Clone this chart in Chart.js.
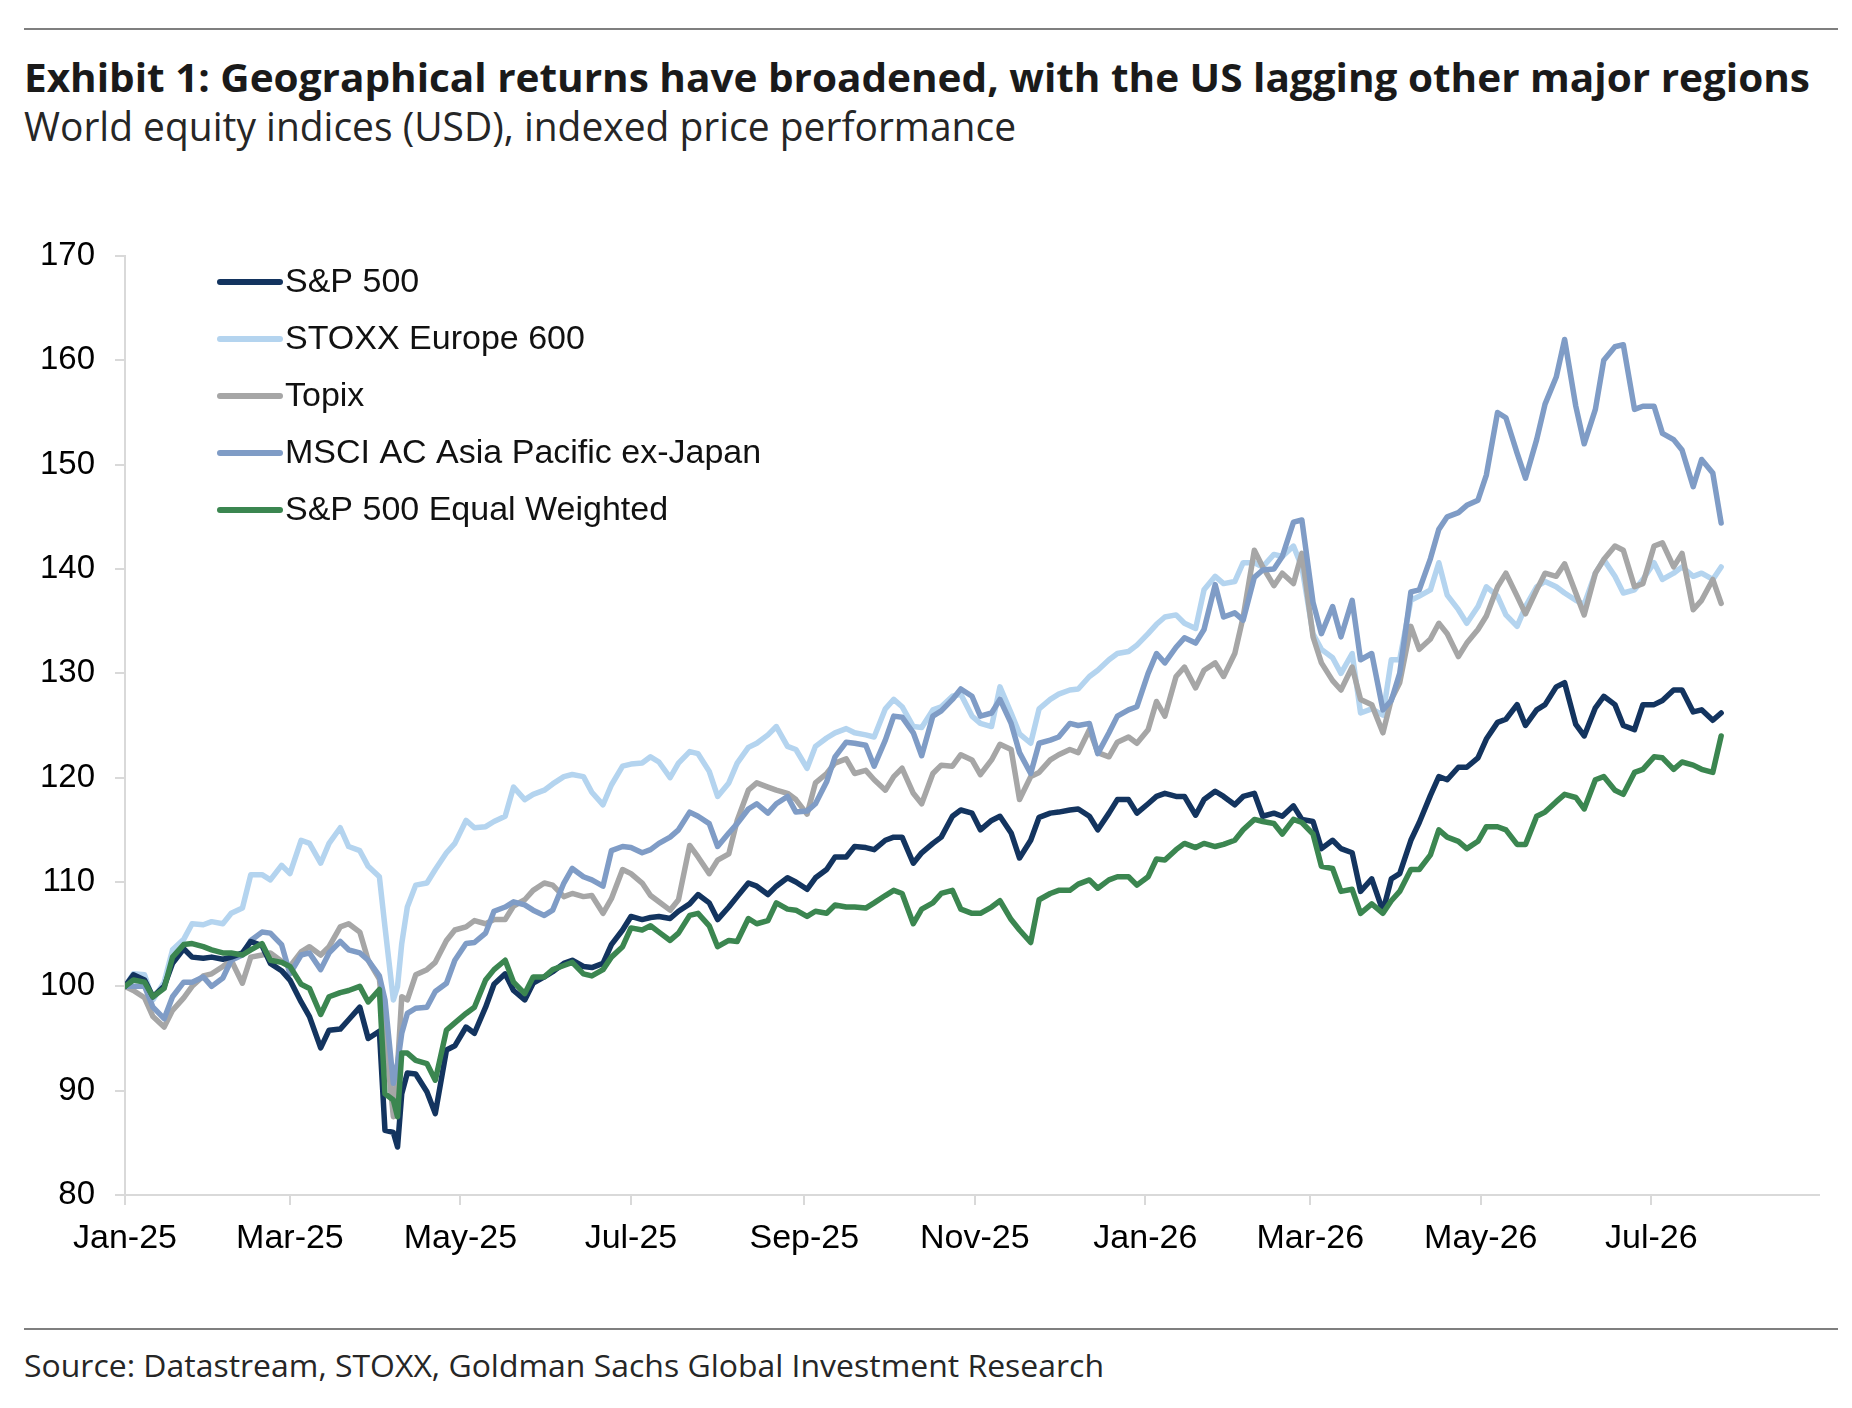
<!DOCTYPE html>
<html>
<head>
<meta charset="utf-8">
<title>Exhibit 1</title>
<script src="https://cdn.jsdelivr.net/npm/chart.js@4.4.1/dist/chart.umd.min.js"></script>
<style>
  html, body { margin: 0; padding: 0; background: #fff; }
  body { width: 1852px; height: 1408px; position: relative; overflow: hidden; font-family: "Open Sans", sans-serif; }
  .rule { position: absolute; left: 24px; width: 1814px; height: 2px; background: #7f7f7f; }
  .txt { position: absolute; left: 24px; line-height: 1; white-space: nowrap; transform-origin: 0 0; }
  #title { top: 57px; font-size: 40px; font-weight: 700; color: #1a1a1a; }
  #subtitle { top: 106px; font-size: 40px; color: #262626; }
  #source { top: 1350px; font-size: 31px; color: #262626; }
  #wrap { position: absolute; left: 0; top: 200px; width: 1852px; height: 1100px; }
</style>
</head>
<body>
<div class="rule" style="top:28px"></div>
<div id="title" class="txt">Exhibit 1: Geographical returns have broadened, with the US lagging other major regions</div>
<div id="subtitle" class="txt">World equity indices (USD), indexed price performance</div>
<div id="wrap"><canvas id="myChart" width="1852" height="1100"></canvas></div>
<div class="rule" style="top:1328px"></div>
<div id="source" class="txt">Source: Datastream, STOXX, Goldman Sachs Global Investment Research</div>

<script>
// days since 1 Jan 2025 (about twice a week)
var days = [0, 3, 7, 10, 14, 17, 21, 24, 28, 31, 35, 38, 42, 45, 49, 52, 56, 59, 63, 66, 70, 73, 77, 80, 84, 87, 91,
  93, 96, 97.5, 99,
  101, 104, 108, 111, 115, 118, 122, 125, 129, 132, 136, 139, 143, 146, 150, 153, 157, 160, 164, 167,
  171, 174, 178, 181, 185, 188, 191, 195, 198, 202, 205, 209, 212, 216, 219, 223, 226, 230, 233, 237,
  240, 244, 247, 251, 254, 258, 261, 265, 268, 272, 275, 278, 282, 285, 289, 292, 296, 299, 303, 306,
  310, 313, 317, 320, 324, 327, 331, 334, 338, 341, 345, 348, 352, 355, 359, 362, 366, 369, 372, 376,
  379, 383, 386, 390, 393, 397,
  400, 404, 407, 411, 414, 418, 421, 425, 428, 432,
  435, 439, 442, 446, 450, 453, 456, 460, 463, 467,
  470, 473, 477, 480, 484, 487, 491, 494, 498, 501,
  505, 508, 512, 515, 519, 522, 526, 529, 533, 536,
  540, 543, 547, 550, 554, 557, 561, 564, 568, 571];

var seriesNames = ['S&P 500', 'STOXX Europe 600', 'Topix', 'MSCI AC Asia Pacific ex-Japan', 'S&P 500 Equal Weighted'];

var spx = [100, 101.1, 100.6, 99, 100, 102.2, 103.6, 102.8, 102.7, 102.8, 102.6, 102.8, 103.2, 104.3, 103.9, 102.2,
  101.5, 100.6, 98.5, 97.1, 94.1, 95.8, 95.9, 96.8, 98, 95, 95.7,
  86.2, 86, 84.6, 89.7,
  91.7, 91.6, 89.9, 87.8, 93.9, 94.3, 96.1, 95.5, 98, 100.2, 101.2, 99.6, 98.7, 100.3, 100.9, 101.4,
  102.2, 102.5, 101.9, 101.8, 102.2, 104, 105.4, 106.7, 106.4, 106.6, 106.7, 106.5, 107.2, 107.9,
  108.8, 108, 106.4, 107.6, 108.6, 109.9, 109.6, 108.8, 109.6, 110.4, 110, 109.3, 110.4, 111.2,
  112.4, 112.4, 113.4, 113.3, 113.1, 114, 114.3, 114.3, 111.8, 112.8, 113.7, 114.3, 116.3, 116.9,
  116.6, 115, 115.9, 116.3, 114.7, 112.3, 114, 116.2, 116.6, 116.7, 116.9, 117, 116.3, 115,
  116.6, 117.9, 117.9, 116.6, 117.5, 118.2, 118.5, 118.2, 118.2, 116.4, 117.9, 118.7, 118.2, 117.4,
  118.2, 118.5, 116.3, 116.6, 116.3, 117.3, 116, 115.8, 113.2, 114,
  113.2, 112.8, 109.1, 110.3, 107.2, 110.3, 110.8, 114, 115.7, 118.3,
  120.1, 119.8, 121, 121, 121.9, 123.7, 125.3, 125.6, 127, 125,
  126.5, 127, 128.7, 129.1, 125.1, 124, 126.7, 127.8, 127, 125,
  124.6, 127, 127, 127.4, 128.4, 128.4, 126.3, 126.5, 125.5, 126.2];

var stoxx = [100, 101.2, 101.1, 98.7, 100.4, 103.5, 104.5, 106, 105.9, 106.2, 106, 107, 107.5, 110.7, 110.7, 110.2,
  111.6, 110.8, 114, 113.7, 111.8, 113.7, 115.2, 113.4, 113, 111.5, 110.5,
  105.7, 98.7, 100, 104.1,
  107.6, 109.7, 109.9, 111.2, 112.8, 113.7, 115.9, 115.2, 115.3, 115.8, 116.3, 119.1, 117.9, 118.4, 118.8, 119.4,
  120.1, 120.3, 120.1, 118.6, 117.4, 119.3, 121.1, 121.3, 121.4, 122, 121.5, 120, 121.4, 122.5,
  122.3, 120.6, 118.2, 119.5, 121.4, 122.9, 123.3, 124.1, 124.9, 123, 122.7, 120.9, 123, 123.8,
  124.3, 124.7, 124.3, 124.1, 123.9, 126.6, 127.5, 126.8, 124.9, 124.8, 126.5, 126.8, 127.8, 128,
  125.9, 125.2, 124.9, 128.7, 126.2, 124.2, 123.3, 126.6, 127.5, 128, 128.4, 128.5, 129.7, 130.3,
  131.3, 131.9, 132.1, 132.7, 133.8, 134.7, 135.4, 135.6, 134.8, 134.3, 138, 139.3, 138.6, 138.8,
  140.6, 140.6, 140.2, 141.4, 141.2, 142.2, 140.2, 133.8, 132.3, 131.5,
  130, 131.9, 126.2, 126.6, 126, 131.3, 131.3, 137, 137.4, 138,
  140.6, 137.5, 136.1, 134.8, 136.4, 138.3, 137.4, 135.6, 134.5, 136.4,
  138.3, 138.8, 138.3, 137.7, 137, 136.6, 139.6, 140.9, 139.3, 137.7,
  138, 139, 140.6, 139, 139.6, 140.2, 139.3, 139.6, 139, 140.2];

var topix = [100, 99.6, 98.9, 97.1, 96.1, 97.7, 98.9, 100, 101, 101.2, 101.9, 102.5, 100.3, 102.8, 103, 103.2,
  102.4, 101.9, 103.3, 103.8, 103, 103.8, 105.7, 106, 105.2, 102.5, 100.7,
  95.5, 87.5, 92.3, 99,
  98.7, 101.1, 101.6, 102.3, 104.4, 105.4, 105.7, 106.3, 106, 106.4, 106.4, 107.7, 108.3, 109.2, 109.9, 109.7,
  108.6, 108.9, 108.6, 108.7, 107, 108.4, 111.2, 110.8, 109.9, 108.7, 108.1, 107.3, 108.3, 113.5,
  112.4, 110.8, 112.1, 112.7, 115.9, 118.8, 119.5, 119.1, 118.8, 118.5, 117.9, 116.5, 119.5, 120.4,
  121.4, 121.8, 120.4, 120.7, 119.8, 118.8, 120.1, 120.9, 118.5, 117.5, 120.4, 121.2, 121.1, 122.2,
  121.7, 120.3, 121.7, 123.2, 122.7, 117.9, 120.1, 120.5, 121.7, 122.2, 122.7, 122.4, 124.6, 122.4,
  122, 123.4, 123.9, 123.3, 124.6, 127.3, 125.9, 129.7, 130.6, 128.6, 130.3, 131, 129.7, 131.9,
  135.4, 141.8, 140.2, 138.4, 139.6, 138.6, 141.5, 133.5, 131, 129.3,
  128.4, 130.6, 127.5, 127, 124.3, 127.5, 129.1, 134.5, 132.3, 133.3,
  134.8, 133.8, 131.6, 132.9, 134.2, 135.5, 138.3, 139.6, 137.4, 135.7,
  138, 139.6, 139.3, 140.5, 137.7, 135.6, 139.6, 140.9, 142.2, 141.8,
  138.3, 138.6, 142.2, 142.5, 140.2, 141.5, 136.1, 137, 139, 136.7];

var msci = [100, 100, 100, 98, 96.9, 99, 100.4, 100.4, 100.9, 100, 100.8, 102.5, 103, 104.4, 105.2, 105.1,
  104, 101.2, 103, 103.2, 101.6, 103.2, 104.3, 103.5, 103.2, 102.5, 101,
  98.7, 90.7, 92.6, 95.5,
  97.4, 97.9, 98, 99.5, 100.3, 102.5, 104.1, 104.2, 105.1, 107.2, 107.6, 108.1, 107.8, 107.3, 106.8, 107.3,
  109.9, 111.3, 110.5, 110.2, 109.6, 113, 113.4, 113.3, 112.8, 113.1, 113.7, 114.3, 115, 116.7,
  116.3, 115.6, 113.4, 114.7, 115.6, 117, 117.5, 116.6, 117.5, 118.2, 116.7, 116.8, 117.5, 119.6,
  122, 123.4, 123.3, 123.1, 121.1, 123.6, 125.9, 125.8, 124.3, 122.1, 125.9, 126.4, 127.5, 128.5,
  127.8, 125.9, 126.2, 127.5, 125.2, 122.4, 120.4, 123.3, 123.6, 123.9, 125.2, 125, 125.2, 122.3,
  124.3, 125.9, 126.5, 126.8, 130, 131.9, 131, 132.5, 133.4, 132.9, 134.2, 138.5, 135.4, 135.8,
  135.1, 139.2, 139.9, 140, 141.2, 144.5, 144.7, 136.8, 133.8, 136.4,
  133.5, 137, 131.3, 131.9, 126.5, 127.4, 130, 137.8, 138, 141,
  143.8, 145, 145.4, 146.1, 146.6, 149, 155, 154.5, 151.1, 148.7,
  152.4, 155.8, 158.4, 162, 155.6, 152, 155.3, 160, 161.3, 161.5,
  155.3, 155.6, 155.6, 153, 152.4, 151.4, 147.9, 150.5, 149.2, 144.4];

var spxEw = [100, 100.6, 100.4, 99, 99.8, 102.8, 104, 104.1, 103.8, 103.5, 103.2, 103.2, 103, 103.5, 104.1, 102.5,
  102.3, 101.9, 100.2, 99.8, 97.3, 99, 99.4, 99.6, 100, 98.5, 99.7,
  89.7, 89.1, 87.5, 93.6,
  93.6, 92.9, 92.6, 91, 95.8, 96.5, 97.4, 98, 100.6, 101.6, 102.5, 100.4, 99.3, 100.9, 100.9, 101.6,
  102, 102.3, 101.2, 101, 101.6, 102.8, 103.8, 105.6, 105.4, 105.8, 105.2, 104.4, 105.1, 106.8,
  107, 105.8, 103.8, 104.4, 104.3, 106.5, 106, 106.3, 108, 107.4, 107.3, 106.7, 107.2, 107,
  107.8, 107.6, 107.6, 107.5, 108, 108.7, 109.2, 108.9, 106, 107.4, 108, 108.9, 109.2, 107.4,
  107, 107, 107.6, 108.2, 106.4, 105.4, 104.2, 108.3, 108.9, 109.2, 109.2, 109.8, 110.2, 109.4,
  110.2, 110.5, 110.5, 109.7, 110.5, 112.2, 112.1, 113.1, 113.7, 113.3, 113.7, 113.4, 113.6, 114,
  115, 116, 115.8, 115.6, 114.6, 116, 115.7, 114.6, 111.5, 111.3,
  109.1, 109.3, 107, 107.9, 107, 108.2, 109.1, 111.2, 111.2, 112.6,
  115, 114.3, 113.9, 113.2, 113.9, 115.3, 115.3, 115, 113.6, 113.6,
  116.3, 116.7, 117.7, 118.4, 118.1, 117, 119.8, 120.1, 118.8, 118.4,
  120.5, 120.8, 122, 121.9, 120.8, 121.5, 121.2, 120.8, 120.5, 124];

// x-axis ticks (days since 1 Jan 2025) and their labels
var tickDays = [0, 59, 120, 181, 243, 304, 365, 424, 485, 546];
var tickLabels = ['Jan-25', 'Mar-25', 'May-25', 'Jul-25', 'Sep-25', 'Nov-25', 'Jan-26', 'Mar-26', 'May-26', 'Jul-26'];

var colors = ['#13345f', '#b4d4ef', '#a6a6a6', '#7f9cc6', '#3b8650'];

function fitWidth(id, w) {
  var el = document.getElementById(id);
  var r = el.getBoundingClientRect().width;
  el.style.transform = 'scaleX(' + (w / r) + ')';
}
fitWidth('title', 1786);
fitWidth('subtitle', 992);
fitWidth('source', 1080);

function points(vals) {
  return days.map(function (d, i) { return { x: d, y: vals[i] }; });
}

var axisFont = { family: '"Liberation Sans", Arial, sans-serif', size: 34 };

// legend drawn inside the plot, top left
var insideLegend = {
  id: 'insideLegend',
  afterDraw: function (chart) {
    var c = chart.ctx;
    c.save();
    c.font = '34px "Liberation Sans", Arial, sans-serif';
    c.textBaseline = 'middle';
    c.lineCap = 'round';
    chart.data.datasets.forEach(function (ds, i) {
      var y = 82 + i * 57;
      c.strokeStyle = ds.borderColor;
      c.lineWidth = 6;
      c.beginPath();
      c.moveTo(220, y);
      c.lineTo(280, y);
      c.stroke();
      c.fillStyle = '#111';
      c.fillText(ds.label, 285, y + 1);
    });
    c.restore();
  }
};

var ctx = document.getElementById('myChart').getContext('2d');
var myChart = new Chart(ctx, {
  type: 'line',
  data: {
    datasets: [
      { label: seriesNames[0], data: points(spx), borderColor: colors[0], order: 1 },
      { label: seriesNames[1], data: points(stoxx), borderColor: colors[1], order: 4 },
      { label: seriesNames[2], data: points(topix), borderColor: colors[2], order: 3 },
      { label: seriesNames[3], data: points(msci), borderColor: colors[3], order: 2 },
      { label: seriesNames[4], data: points(spxEw), borderColor: colors[4], order: 0 }
    ]
  },
  options: {
    responsive: false,
    devicePixelRatio: 1,
    animation: false,
    layout: { padding: { left: 0, right: 33, top: 56, bottom: 0 } },
    elements: {
      point: { radius: 0 },
      line: { borderWidth: 5.5, tension: 0, borderJoinStyle: 'round', borderCapStyle: 'round', fill: false }
    },
    plugins: { legend: { display: false }, tooltip: { enabled: false } },
    scales: {
      x: {
        type: 'linear',
        min: 0,
        max: 606,
        afterBuildTicks: function (scale) {
          scale.ticks = tickDays.map(function (v) { return { value: v }; });
        },
        afterFit: function (scale) { scale.height = 105; },
        ticks: {
          autoSkip: false,
          maxRotation: 0,
          color: '#000',
          font: axisFont,
          padding: 13,
          callback: function (v) {
            var i = tickDays.indexOf(v);
            return i < 0 ? '' : tickLabels[i];
          }
        },
        grid: { drawOnChartArea: false, drawTicks: true, tickLength: 10, color: '#d9d9d9', lineWidth: 2 },
        border: { display: true, color: '#d9d9d9', width: 2 }
      },
      y: {
        min: 80,
        max: 170,
        afterFit: function (scale) { scale.width = 125; },
        ticks: { stepSize: 10, color: '#000', font: { family: axisFont.family, size: 33 }, padding: 20 },
        grid: { drawOnChartArea: false, drawTicks: true, tickLength: 10, color: '#d9d9d9', lineWidth: 2 },
        border: { display: true, color: '#d9d9d9', width: 2 }
      }
    }
  },
  plugins: [insideLegend]
});
</script>
</body>
</html>
